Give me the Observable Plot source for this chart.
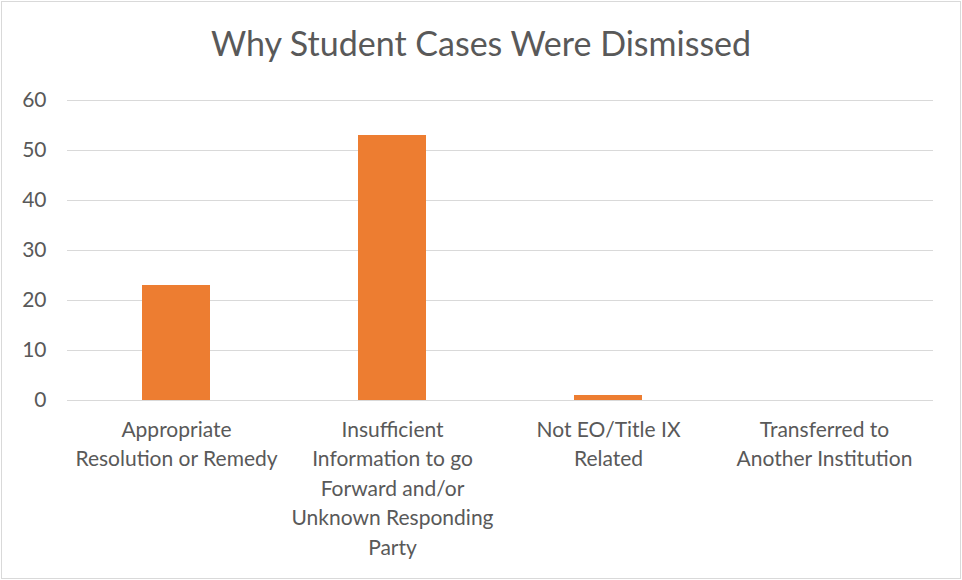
<!DOCTYPE html>
<html>
<head>
<meta charset="utf-8">
<script src="https://cdn.jsdelivr.net/npm/d3@7"></script>
<script src="https://cdn.jsdelivr.net/npm/@observablehq/plot@0.6"></script>
<style>
  html, body { margin: 0; padding: 0; background: #fff; }
  #chart { position: relative; width: 958px; height: 576px; border: 1px solid #d9d9d9; margin: 1px 0 0 1px; font-family: Lato, "Open Sans", sans-serif; overflow: hidden; }
  #title { position: absolute; left: 0; right: 0; top: 20px; text-align: center; font-size: 34px; color: #595959; }
  #plot { position: absolute; left: 0; top: 0; }
</style>
</head>
<body>
<div id="chart">
  <div id="title">Why Student Cases Were Dismissed</div>
  <div id="plot"></div>
</div>
<script>
const categories = [
  "Appropriate Resolution or Remedy",
  "Insufficient Information to go Forward and/or Unknown Responding Party",
  "Not EO/Title IX Related",
  "Transferred to Another Institution"
];
const values = [23, 53, 1, 0];
const tickLabels = [
  "Appropriate\nResolution or Remedy",
  "Insufficient\nInformation to go\nForward and/or\nUnknown Responding\nParty",
  "Not EO/Title IX\nRelated",
  "Transferred to\nAnother Institution"
];
const yTicks = [0, 10, 20, 30, 40, 50, 60];

const data = categories.map((c, i) => ({category: c, value: values[i]}));
const labelOf = new Map(categories.map((c, i) => [c, tickLabels[i]]));

const chart = Plot.plot({
  width: 958,
  height: 576,
  marginTop: 98,
  marginBottom: 178,
  marginLeft: 65,
  marginRight: 27,
  style: {fontFamily: "Lato, 'Open Sans', sans-serif", color: "#595959", background: "transparent", overflow: "visible"},
  x: {domain: categories, paddingInner: 0.686, paddingOuter: 0.343, label: null},
  y: {domain: [0, 60], label: null},
  marks: [
    Plot.gridY(yTicks, {stroke: "#d9d9d9", strokeOpacity: 1, strokeWidth: 1}),
    Plot.barY(data, {x: "category", y: "value", fill: "#ED7D31"}),
    Plot.ruleY([0], {stroke: "#d9d9d9", strokeWidth: 1}),
    Plot.axisY(yTicks, {tickSize: 0, tickPadding: 0, dx: -21, fontSize: 21, fill: "#595959", label: null}),
    Plot.axisX({tickSize: 0, tickPadding: 15, fontSize: 21, lineHeight: 1.41, fill: "#595959", lineWidth: 30, tickFormat: d => labelOf.get(d), label: null})
  ]
});
document.getElementById("plot").appendChild(chart);
</script>
</body>
</html>
